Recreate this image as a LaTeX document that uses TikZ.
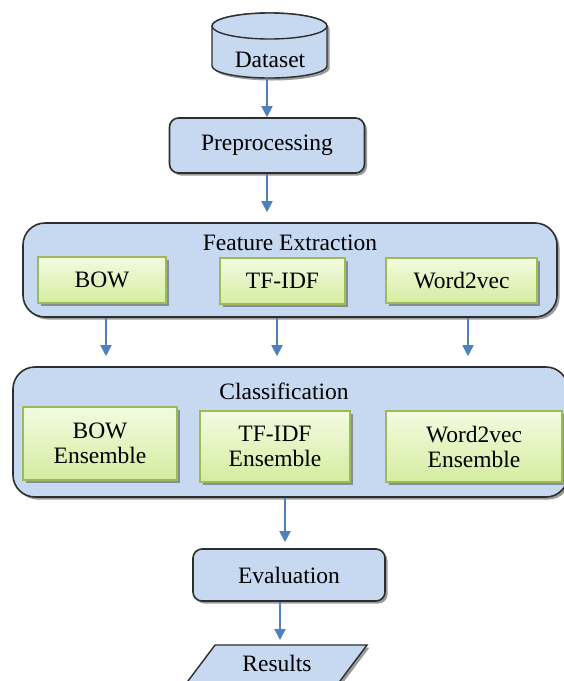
\documentclass[tikz,border=0pt]{standalone}
\usepackage{fontspec}
\setmainfont{Liberation Serif}
\usetikzlibrary{arrows.meta,shadows}
\definecolor{boxblue}{HTML}{C6D9F1}
\definecolor{edgedark}{HTML}{2E2E2E}
\definecolor{greenedge}{HTML}{9BBB59}
\definecolor{greentop}{HTML}{F3FBE1}
\definecolor{greenbot}{HTML}{D5ECA0}
\definecolor{arrowblue}{HTML}{4F81BD}
\tikzset{
  txt/.style={font=\rmfamily\fontsize{23.5}{25}\selectfont, text=black, align=center},
  softshadow/.style={drop shadow={shadow xshift=2.5pt, shadow yshift=-2.5pt, fill=black!60, opacity=0.65}},
  bluebox/.style={txt, draw=edgedark, line width=1.6pt, fill=boxblue, rounded corners=9pt, inner sep=0pt, softshadow},
  bigbox/.style={bluebox, rounded corners=22pt},
  greenbox/.style={txt, draw=greenedge, line width=1.4pt, top color=greentop, bottom color=greenbot, inner sep=0pt, softshadow},
  flow/.style={draw=arrowblue, line width=1.8pt, -{Triangle[width=11pt,length=11pt]}}
}
\begin{document}
\begin{tikzpicture}[x=1pt, y=-1pt]
\useasboundingbox[clip] (0,0) rectangle (564,681);
\fill[white] (0,0) rectangle (564,681);

% Dataset cylinder
\path[fill=boxblue, draw=edgedark, line width=1.4pt, softshadow]
  (212,26) -- (212,66) arc[start angle=180, end angle=0, x radius=57.5, y radius=12]
  -- (327,26) arc[start angle=0, end angle=-180, x radius=57.5, y radius=13] -- cycle;
\draw[fill=boxblue, draw=edgedark, line width=1.4pt] (269.5,26) ellipse[x radius=57.5, y radius=13];
\node[txt] (ds) at (270,60) {Dataset};
\coordinate (dsb) at (267,78);

% Preprocessing
\node[bluebox, minimum width=195pt, minimum height=55pt] (pre) at (267,145.5) {Preprocessing};

% Feature extraction group
\node[bigbox, minimum width=534pt, minimum height=94pt] (fe) at (290,270) {};
\node[txt] (fet) at (290,243) {Feature Extraction};
\node[greenbox, minimum width=128pt, minimum height=46pt] (bow) at (102,280) {BOW};
\node[greenbox, minimum width=125pt, minimum height=46pt] (tfidf) at (282.5,281) {TF-IDF};
\node[greenbox, minimum width=151pt, minimum height=45pt] (w2v) at (461.5,280.5) {Word2vec};

% Classification group
\node[bigbox, minimum width=555pt, minimum height=130pt] (cl) at (290.5,432) {};
\node[txt] (clt) at (284,391) {Classification};
\node[greenbox, minimum width=154pt, minimum height=73pt] (bowe) at (100,443.5) {BOW\\Ensemble};
\node[greenbox, minimum width=150pt, minimum height=71pt] (tfe) at (275,446.5) {TF-IDF\\Ensemble};
\node[greenbox, minimum width=176pt, minimum height=71pt] (w2ve) at (474,446.5) {Word2vec\\Ensemble};

% Evaluation
\node[bluebox, minimum width=192pt, minimum height=52pt] (ev) at (289,575) {Evaluation};

% Results parallelogram
\path[fill=boxblue, draw=edgedark, line width=1.4pt, softshadow]
  (215,645) -- (367,645) -- (328,697) -- (176,697) -- cycle;
\node[txt] (res) at (277,663) {Results};
\coordinate (restop) at (280,645);

% Connectors
\draw[flow] (dsb) -- (dsb |- pre.north);
\draw[flow, shorten >=10pt] (pre.south) -- (pre.south |- fe.north);
\draw[flow, shorten >=10pt] ([xshift=4pt]bow.south |- fe.south) -- ([xshift=4pt]bow.south |- cl.north);
\draw[flow, shorten >=10pt] ([xshift=-5.5pt]tfidf.south |- fe.south) -- ([xshift=-5.5pt]tfidf.south |- cl.north);
\draw[flow, shorten >=10pt] ([xshift=6.5pt]w2v.south |- fe.south) -- ([xshift=6.5pt]w2v.south |- cl.north);
\draw[flow, shorten >=6pt] ([xshift=-4pt]ev.north |- cl.south) -- ([xshift=-4pt]ev.north);
\draw[flow, shorten >=5pt] (restop |- ev.south) -- (restop);
\end{tikzpicture}
\end{document}
